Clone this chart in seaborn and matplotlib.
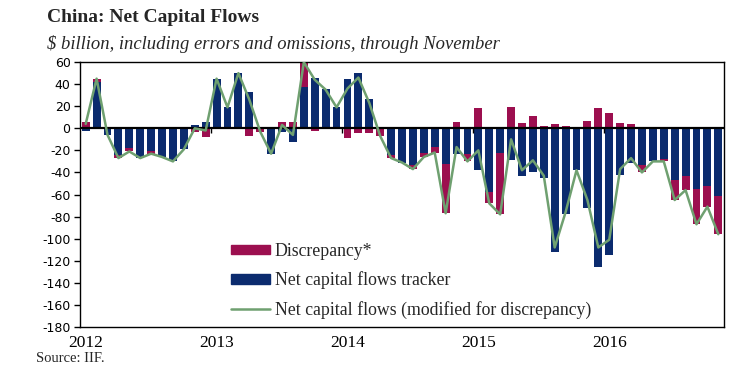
import numpy as np
import pandas as pd
import matplotlib.pyplot as plt
import seaborn as sns
from matplotlib.patches import Patch
from matplotlib.lines import Line2D

# monthly, Jan 2012 - Nov 2016, $ billion
months = pd.date_range('2012-01-01', '2016-11-01', freq='MS')

tracker = [-2, 42, -6, -24, -18, -27, -21, -26, -30, -19, 3, 6,
           45, 19, 50, 33, -1, -23, -3, -12, 37, 46, 36, 19,
           45, 50, 27, -1, -24, -31, -33, -22, -17, -32, -23, -23,
           -38, -58, -22, -29, -43, -40, -45, -112, -78, -38, -72, -126,
           -115, -42, -31, -33, -30, -28, -47, -43, -55, -52, -61]

discrepancy = [6, 3, 0, -3, -3, 0, -2, 0, 0, 0, -3, -8,
               0, 0, 0, -7, -2, 0, 6, 6, 23, -2, -1, 0,
               -9, -4, -4, -6, -3, 0, -4, -4, -5, -45, 6, -7,
               18, -10, -56, 19, 5, 11, 2, 4, 2, 0, 7, 18,
               14, 5, 4, -7, 0, -2, -18, -13, -32, -19, -35]

year_labels = ['2012', '2013', '2014', '2015', '2016']

maroon = '#9C0F4F'
navy = '#0B2B6E'
green = '#6FA070'

df = pd.DataFrame({'month': np.arange(len(months)),
                   'tracker': tracker,
                   'discrepancy': discrepancy})
df['net'] = df['tracker'] + df['discrepancy']
# Excel-style stacking: same sign stacks on the tracker, opposite sign starts at zero
same_sign = np.sign(df['tracker']) == np.sign(df['discrepancy'])
df['outer'] = np.where(same_sign, df['net'], df['discrepancy'])

sns.set_theme(style='white')
plt.rcParams['font.family'] = ['DejaVu Sans']
plt.rcParams['axes.unicode_minus'] = False

fig = plt.figure(figsize=(7.5, 3.81), dpi=100)
ax = fig.add_axes([0.107, 0.142, 0.858, 0.695])

sns.barplot(data=df, x='month', y='outer', native_scale=True, color=maroon,
            saturation=1, width=0.72, linewidth=0, errorbar=None, ax=ax)
sns.barplot(data=df, x='month', y='tracker', native_scale=True, color=navy,
            saturation=1, width=0.72, linewidth=0, errorbar=None, ax=ax)
sns.lineplot(data=df, x='month', y='net', color=green, linewidth=1.8, ax=ax, zorder=4)

ax.axhline(0, color='black', linewidth=1.6, zorder=3)
year_pos = df['month'][months.month == 1].to_numpy()
ax.vlines(year_pos[1:] - 0.5, -4.5, 0, color='black', linewidth=1, zorder=3)

ax.set_xlim(-0.5, len(months) - 0.5)
ax.set_ylim(-180, 60)
ax.set_yticks(range(-180, 61, 20))
ax.set_xticks(year_pos)
ax.set_xticklabels(year_labels, family='Liberation Serif', fontsize=12.5)
ax.tick_params(axis='x', length=0, pad=6, colors='black')
ax.tick_params(axis='y', direction='out', length=4, width=1, labelsize=9, pad=3,
               left=True, colors='black')
ax.set_xlabel('')
ax.set_ylabel('')
for s in ax.spines.values():
    s.set_color('black')
    s.set_linewidth(1)

handles = [Patch(color=maroon, label='Discrepancy*'),
           Patch(color=navy, label='Net capital flows tracker'),
           Line2D([], [], color=green, linewidth=1.8,
                  label='Net capital flows (modified for discrepancy)')]
ax.legend(handles=handles, loc='center left', bbox_to_anchor=(0.296, 0.263),
          bbox_transform=fig.transFigure, frameon=False, borderpad=0,
          handlelength=2.2, handleheight=0.45, handletextpad=0.28,
          labelspacing=0.65, prop={'family': 'Liberation Serif', 'size': 12.8})

fig.text(0.063, 0.953, 'China: Net Capital Flows', family='Liberation Serif',
         fontweight='bold', fontsize=14, va='center', ha='left')
fig.text(0.063, 0.885, '$ billion, including errors and omissions, through November',
         family='Liberation Serif', style='italic', fontsize=13.4, va='center', ha='left')
fig.text(0.048, 0.06, 'Source: IIF.', family='Liberation Serif', fontsize=10.5,
         va='center', ha='left')

fig.savefig('out.png', dpi=100)
